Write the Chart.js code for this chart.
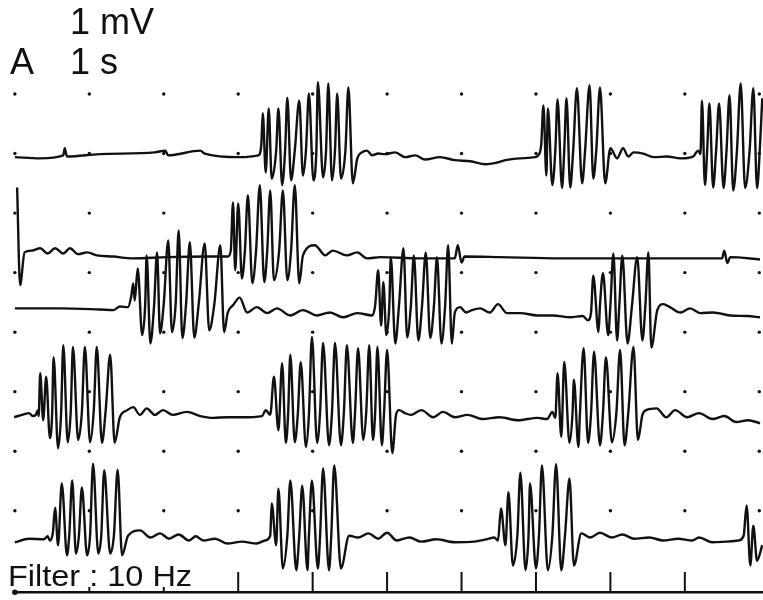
<!DOCTYPE html>
<html><head><meta charset="utf-8">
<script src="https://cdn.jsdelivr.net/npm/chart.js@4"></script>
<style>
html,body{margin:0;padding:0;background:#fff;}
#wrap{position:relative;width:763px;height:600px;overflow:hidden;background:#fff;}
canvas{position:absolute;left:0;top:0;}
.lbl{position:absolute;font-family:"Liberation Sans",Arial,sans-serif;color:#111;line-height:1;white-space:nowrap;}
</style></head><body>
<div id="wrap">
<canvas id="c" width="763" height="600"></canvas>
<div class="lbl" style="left:70px;top:4px;font-size:36px">1 mV</div>
<div class="lbl" style="left:10px;top:44px;font-size:36px">A</div>
<div class="lbl" style="left:70px;top:44px;font-size:36px">1 s</div>
<div class="lbl" style="left:8px;top:562px;font-size:29px;transform:scaleX(1.12);transform-origin:0 0">Filter : 10 Hz</div>
</div>
<script>
// Time in seconds, amplitude in mV relative to each sweep's own baseline
const trace1 = [[0,-0.03],[0.34,-0.05],[0.65,0],[0.67,0.12],[0.70,-0.02],[1.14,0.02],[1.88,0.05],[2.02,0.08],[2.06,0],[2.49,0.08],[2.55,0.03],[3.02,-0.03],[3.27,0],
[3.31,0.17],[3.33,0.71],[3.37,-0.29],[3.41,0.79],[3.45,-0.39],[3.51,0.08],[3.54,0.79],[3.59,-0.50],[3.63,0.08],[3.66,0.97],[3.71,-0.42],[3.76,0.08],[3.82,0.92],[3.87,-0.34],[3.91,0.08],[3.95,1.04],[4.01,-0.42],[4.05,0.08],[4.07,1.23],[4.14,-0.37],[4.18,0.08],[4.21,1.21],[4.26,-0.42],[4.30,0.08],[4.33,1.04],[4.38,-0.39],[4.44,0.08],[4.48,1.14],[4.54,-0.47],[4.60,-0.05],[4.66,0.05],[4.73,0.08],[4.80,0],[4.88,0.03],
[4.97,0.02],[5.11,0.05],[5.24,-0.03],[5.38,0],[5.51,-0.07],[5.71,-0.03],[5.91,-0.08],[6.12,-0.10],[6.32,-0.15],[6.48,-0.12],[6.59,-0.08],[6.79,-0.05],[6.99,-0.03],
[7.03,0],[7.07,0.17],[7.10,0.84],[7.14,-0.34],[7.16,0.79],[7.22,-0.50],[7.26,0.08],[7.29,0.94],[7.35,-0.55],[7.38,0.08],[7.41,0.96],[7.46,-0.54],[7.50,0.08],[7.55,1.13],[7.62,-0.47],[7.66,0.08],[7.72,1.18],[7.77,-0.39],[7.81,0.08],[7.86,1.14],[7.93,-0.47],[8.00,0.12],[8.09,-0.05],[8.17,0.12],[8.24,-0.02],[8.31,0.05],[8.44,0.03],[8.58,-0.03],[8.76,-0.02],[8.94,-0.05],[9.11,-0.02],[9.18,0.08],[9.21,0.02],
[9.23,0.92],[9.27,-0.50],[9.30,0.08],[9.33,0.87],[9.38,-0.54],[9.42,0.08],[9.46,0.87],[9.52,-0.55],[9.56,0.08],[9.60,1.01],[9.65,-0.59],[9.70,0.08],[9.75,1.21],[9.81,-0.55],[9.87,0.08],[9.92,1.13],[9.97,-0.55],[10.01,0.17],[10.04,0.96]];

const trace2 = [[0.03,1.14],[0.07,-0.50],[0.13,0.05],[0.23,0.08],[0.34,0.12],[0.44,0.03],[0.54,0.12],[0.65,0.03],[0.74,0.12],[0.85,0.02],[0.97,0.05],[1.10,0],[1.32,-0.02],[1.59,-0.05],[2.04,-0.03],[2.58,-0.02],[2.86,-0.02],
[2.90,0.08],[2.93,0.89],[2.96,-0.25],[3.00,0.87],[3.05,-0.39],[3.09,0.08],[3.13,1.01],[3.19,-0.47],[3.24,0.08],[3.29,1.18],[3.35,-0.45],[3.39,0.08],[3.43,1.09],[3.48,-0.42],[3.55,0.08],[3.60,1.09],[3.66,-0.42],[3.71,0.08],[3.76,1.18],[3.82,-0.47],[3.87,0],[4.03,0.17],[4.17,0],[4.27,0.08],[4.46,0],[4.60,0.05],[4.73,-0.05],[4.91,-0.03],[5.44,-0.05],[5.91,-0.05],[5.95,0.17],[6.00,-0.12],[6.04,-0.02],[6.52,-0.03],[7.33,-0.05],[8.13,-0.05],[8.94,-0.05],[9.50,-0.05],[9.53,0.08],[9.57,-0.13],[9.61,-0.03],[10.01,-0.07]];

const trace3 = [[0,0],[0.61,0],[1.14,-0.02],[1.32,-0.03],[1.41,0.03],[1.52,0.02],[1.56,0.18],[1.59,0.42],[1.61,0.13],[1.65,0.67],[1.71,-0.45],[1.75,0.05],[1.77,0.89],[1.82,-0.59],[1.87,0.05],[1.91,0.94],[1.95,-0.42],[2.00,0.08],[2.06,1.14],[2.11,-0.40],[2.16,0.08],[2.20,1.31],[2.25,-0.50],[2.30,0.08],[2.35,1.11],[2.41,-0.49],[2.47,0.08],[2.55,1.09],[2.61,-0.37],[2.68,0.08],[2.76,1.06],[2.81,-0.40],[2.86,-0.07],[2.93,0.05],[3.02,0.18],[3.12,-0.07],[3.25,0.02],[3.39,-0.08],[3.52,0],[3.70,-0.12],[3.87,-0.03],[4.06,-0.12],[4.23,-0.07],[4.41,-0.15],[4.60,-0.08],[4.80,-0.12],
[4.84,0.05],[4.88,0.64],[4.92,-0.29],[4.95,0.44],[4.99,-0.45],[5.03,0.05],[5.05,0.86],[5.11,-0.59],[5.16,0.05],[5.22,1.01],[5.27,-0.49],[5.32,0.05],[5.36,0.89],[5.42,-0.54],[5.47,0.05],[5.52,0.94],[5.58,-0.50],[5.63,0.05],[5.67,0.86],[5.73,-0.59],[5.78,0.05],[5.82,1.06],[5.87,-0.59],[5.91,-0.07],[5.98,0.02],[6.06,-0.07],[6.14,-0.03],[6.25,0],[6.38,-0.07],[6.49,0.07],[6.61,-0.08],[6.79,-0.08],[7.02,-0.12],[7.23,-0.12],[7.46,-0.15],[7.63,-0.13],[7.70,-0.20],[7.74,-0.07],
[7.77,0.55],[7.84,-0.40],[7.86,0.05],[7.90,0.59],[7.97,-0.45],[8.00,0.05],[8.04,0.92],[8.09,-0.54],[8.12,0.05],[8.16,0.89],[8.23,-0.59],[8.29,0.05],[8.36,0.86],[8.43,-0.54],[8.47,0.05],[8.51,0.94],[8.55,-0.66],[8.63,-0.03],[8.71,0.07],[8.80,0.02],[8.94,-0.07],[9.07,0],[9.21,-0.08],[9.38,-0.07],[9.61,-0.12],[9.84,-0.13],[10.01,-0.15]];

const trace4 = [[-0.01,-0.02],[0.12,0.03],[0.19,0.05],[0.24,0],[0.28,0.02],[0.31,0.10],[0.32,0],
[0.34,0.72],[0.38,-0.07],[0.42,0.66],[0.47,-0.37],[0.50,0.02],[0.52,0.99],[0.58,-0.54],[0.62,0.02],[0.65,1.19],[0.71,-0.44],[0.75,0.07],[0.78,1.16],[0.85,-0.40],[0.90,0.07],[0.94,1.16],[1.01,-0.44],[1.06,0.10],[1.10,1.16],[1.17,-0.45],[1.22,0.10],[1.28,1.03],[1.34,-0.45],[1.41,-0.02],[1.51,0.10],[1.59,0.15],[1.68,0.02],[1.77,0.13],[1.88,0.02],[1.99,0.10],[2.12,0.02],[2.31,0.07],[2.49,0],[2.66,-0.03],[2.85,-0.02],[3.05,-0.02],[3.32,0],
[3.37,0.10],[3.43,0.02],[3.48,0.66],[3.54,-0.24],[3.59,0.89],[3.64,-0.45],[3.67,0.02],[3.70,1.03],[3.76,-0.44],[3.80,0.02],[3.84,0.91],[3.91,-0.52],[3.95,0.02],[3.99,1.33],[4.06,-0.45],[4.10,0.07],[4.14,1.23],[4.22,-0.49],[4.26,0.07],[4.30,1.23],[4.38,-0.49],[4.42,0.07],[4.46,1.19],[4.54,-0.45],[4.57,0.07],[4.61,1.14],[4.68,-0.40],[4.72,0.07],[4.76,1.19],[4.81,-0.40],[4.84,0.07],[4.87,1.16],[4.93,-0.49],[4.96,0.07],[5.00,1.11],[5.07,-0.62],[5.12,0.02],[5.16,0.10],[5.24,0.05],[5.32,0.02],[5.46,0.10],[5.62,-0.02],[5.75,0.07],[5.91,-0.02],[6.08,0.02],[6.28,-0.05],[6.51,-0.02],[6.76,-0.07],[7.02,-0.03],[7.15,-0.05],
[7.22,0.07],[7.26,-0.03],[7.29,0.72],[7.34,-0.35],[7.38,0.91],[7.45,-0.45],[7.49,0.02],[7.51,0.61],[7.57,-0.52],[7.59,0.02],[7.64,1.14],[7.70,-0.45],[7.74,0.05],[7.78,1.08],[7.86,-0.49],[7.90,0.05],[7.94,0.99],[8.02,-0.44],[8.08,0.05],[8.13,1.11],[8.19,-0.49],[8.24,0.05],[8.31,1.16],[8.37,-0.40],[8.43,0.02],[8.48,0.10],[8.62,0.13],[8.75,-0.02],[8.87,0.10],[9.03,-0.02],[9.19,0.05],[9.37,-0.05],[9.53,0],[9.69,-0.10],[9.85,-0.07],[10.01,-0.12]];

const trace5 = [[0,-0.03],[0.19,0.03],[0.39,0.02],[0.44,0.07],[0.47,0],
[0.51,0.13],[0.54,0.55],[0.58,-0.08],[0.63,0.96],[0.70,-0.25],[0.73,0.08],[0.77,1.01],[0.82,-0.22],[0.86,0.08],[0.90,0.89],[0.97,-0.25],[1.01,0.08],[1.05,1.29],[1.12,-0.22],[1.16,0.08],[1.20,1.18],[1.28,-0.22],[1.33,0.08],[1.38,1.19],[1.44,-0.25],[1.52,0.08],[1.68,0.17],[1.82,0.05],[1.95,0.12],[2.07,0.03],[2.20,0.10],[2.34,0],[2.43,0.07],[2.53,0],[2.69,0.03],[2.85,-0.05],[3.05,-0.02],[3.25,-0.05],[3.36,0],
[3.43,0.08],[3.45,0.62],[3.51,-0.08],[3.54,0.87],[3.60,-0.47],[3.66,0.08],[3.70,1.01],[3.78,-0.50],[3.82,0.08],[3.86,0.92],[3.93,-0.50],[3.95,0.08],[3.99,1.01],[4.07,-0.47],[4.10,0.08],[4.14,1.21],[4.22,-0.50],[4.25,0.08],[4.29,1.26],[4.38,-0.47],[4.49,0.08],[4.61,0.05],[4.75,0.12],[4.88,0.03],[5.00,0.13],[5.13,0],[5.30,0.05],[5.46,-0.02],[5.66,0.02],[5.91,-0.03],[6.17,-0.02],[6.37,0.03],[6.44,0.05],
[6.49,0],[6.53,0.54],[6.59,-0.08],[6.63,0.81],[6.69,-0.42],[6.75,0.08],[6.79,1.14],[6.86,-0.50],[6.90,0.08],[6.92,0.96],[7.00,-0.47],[7.04,0.08],[7.08,1.26],[7.16,-0.50],[7.22,0.08],[7.27,1.28],[7.34,-0.50],[7.39,0.08],[7.45,1.04],[7.51,-0.42],[7.61,0.12],[7.73,0.05],[7.86,0.13],[8.02,0.05],[8.16,0.10],[8.32,0.03],[8.52,0.05],[8.71,0],[8.91,0.03],[9.10,0],[9.19,0.05],[9.37,-0.03],[9.56,-0.02],[9.72,0],[9.79,0.08],[9.83,0.59],[9.88,-0.42],[9.92,0.25],[9.97,-0.34],[10.04,-0.08]];

// Grid (1 s x 1 mV dots) and time-marker channel
const gridSeconds = [0,1,2,3,4,5,6,7,8,9,10];
const gridRows = [0,-1,-2,-3,-4,-5,-6,-7];
const markerMajor = [3,4,5,6,7,8,9];
const markerMinor = [1,2];

// Layout constants (not data)
const sweepOffsets = [-1.03,-2.71,-3.60,-5.41,-7.50];
const markerLevel = -8.37, markerMajorTop = -8.03, markerMinorTop = -8.28;
const INK = '#111';

const sweeps = [trace1,trace2,trace3,trace4,trace5];

const gridPlugin = {
  id:'ecgGrid',
  beforeDatasetsDraw(chart){
    const {ctx, scales:{x,y}, chartArea} = chart;
    ctx.save();
    ctx.fillStyle = INK;
    gridSeconds.forEach(s=>gridRows.forEach(r=>{
      ctx.beginPath();
      ctx.arc(x.getPixelForValue(s), y.getPixelForValue(r), 1.7, 0, Math.PI*2);
      ctx.fill();
    }));
    const yl = y.getPixelForValue(markerLevel);
    ctx.strokeStyle = INK;
    ctx.lineWidth = 2.6;
    ctx.beginPath();
    ctx.moveTo(x.getPixelForValue(0), yl);
    ctx.lineTo(chartArea.right, yl);
    ctx.stroke();
    ctx.lineWidth = 2;
    markerMajor.forEach(s=>{
      const px = x.getPixelForValue(s);
      ctx.beginPath(); ctx.moveTo(px, yl); ctx.lineTo(px, y.getPixelForValue(markerMajorTop)); ctx.stroke();
    });
    markerMinor.forEach(s=>{
      const px = x.getPixelForValue(s);
      ctx.beginPath(); ctx.moveTo(px, yl); ctx.lineTo(px, y.getPixelForValue(markerMinorTop)); ctx.stroke();
    });
    ctx.beginPath();
    ctx.arc(x.getPixelForValue(0), yl, 2.8, 0, Math.PI*2);
    ctx.fill();
    ctx.restore();
  }
};

new Chart(document.getElementById('c').getContext('2d'), {
  type:'line',
  data:{
    datasets: sweeps.map((tr,i)=>({
      label:'Sweep '+(i+1),
      data: tr.map(p=>({x:p[0], y:p[1]+sweepOffsets[i]})),
      borderColor: INK,
      borderWidth: 2.4,
      pointRadius: 0,
      cubicInterpolationMode: 'monotone',
      fill: false
    }))
  },
  options:{
    responsive:false,
    animation:false,
    events:[],
    layout:{padding:0},
    plugins:{legend:{display:false}, tooltip:{enabled:false}},
    scales:{
      x:{type:'linear', min:-0.2, max:10.05, display:false},
      y:{type:'linear', min:-8.5, max:1.58, display:false}
    }
  },
  plugins:[gridPlugin]
});
</script>
</body></html>
